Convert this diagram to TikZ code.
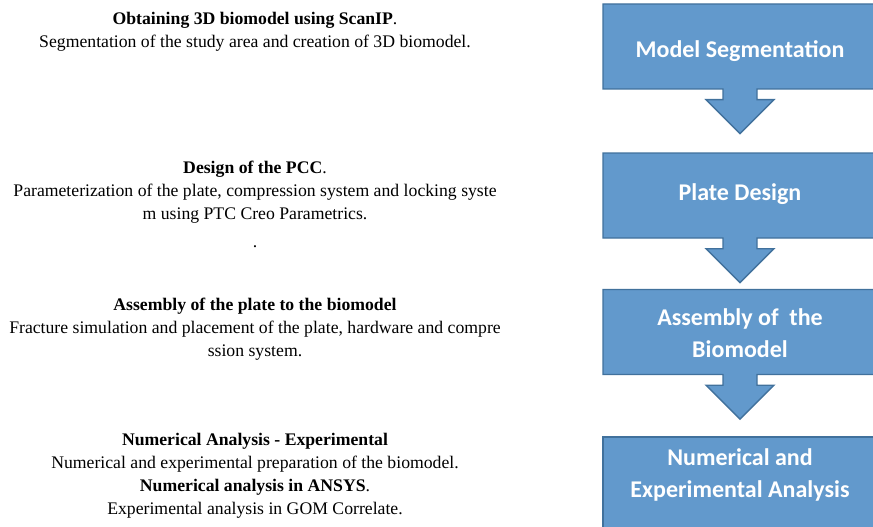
\documentclass[tikz,border=0pt]{standalone}
\usepackage{fontspec}
\setmainfont{Liberation Serif}
\newfontfamily\calfont{Carlito}
\usetikzlibrary{shapes.arrows}
\definecolor{boxfill}{RGB}{98,153,204}
\definecolor{boxedge}{RGB}{65,113,156}
\tikzset{
    stepbox/.style={rectangle,draw=boxedge,fill=boxfill,line width=1.3pt,minimum width=274pt,minimum height=85pt,inner sep=0pt},
    arrowbox/.style={stepbox,arrow box,arrow box arrows={south:44pt},arrow box shaft width=34pt,arrow box head extend=17pt,arrow box tip angle=90},
    boxlabel/.style={text=white,align=center,inner sep=0pt,anchor=north,font=\calfont\bfseries\fontsize{24}{32}\selectfont},
    steptext/.style={align=center,inner sep=0pt,anchor=north,font=\fontsize{17.7}{23}\selectfont},
}
\begin{document}
\begin{tikzpicture}[x=1pt,y=-1pt]
    \useasboundingbox (0,0) rectangle (873,527);

    % the four steps on the right
    \node[arrowbox] (seg) at (740,46.5) {};
    \node[arrowbox] (plate) at (740,195.5) {};
    \node[arrowbox] (asm) at (740,332) {};
    \node[stepbox,minimum height=95pt] (ana) at (740,484.5) {};

    \node[boxlabel] (segl) at (740,40.5) {Model Segmentation};
    \node[boxlabel] (platel) at (740,183.2) {Plate Design};
    \node[boxlabel] (asml) at (740,308.2) {Assembly of~ the\\Biomodel};
    \node[boxlabel] (anal) at (740,448.2) {Numerical and\\Experimental Analysis};

    % descriptions on the left
    \node[steptext] (segt) at (255,11.8) {\textbf{Obtaining 3D biomodel using ScanIP}.\\
        Segmentation of the study area and creation of 3D biomodel.};
    \node[steptext] (platet) at (255,160.8) {\textbf{Design of the PCC}.\\
        Parameterization of the plate, compression system and locking syste\\
        m using PTC Creo Parametrics.\\[5pt]
        .};
    \node[steptext] (asmt) at (255,297.8) {\textbf{Assembly of the plate to the biomodel}\\
        Fracture simulation and placement of the plate, hardware and compre\\
        ssion system.};
    \node[steptext] (anat) at (255,432.8) {\textbf{Numerical Analysis - Experimental}\\
        Numerical and experimental preparation of the biomodel.\\
        \textbf{Numerical analysis in ANSYS}.\\
        Experimental analysis in GOM Correlate.};
\end{tikzpicture}
\end{document}
